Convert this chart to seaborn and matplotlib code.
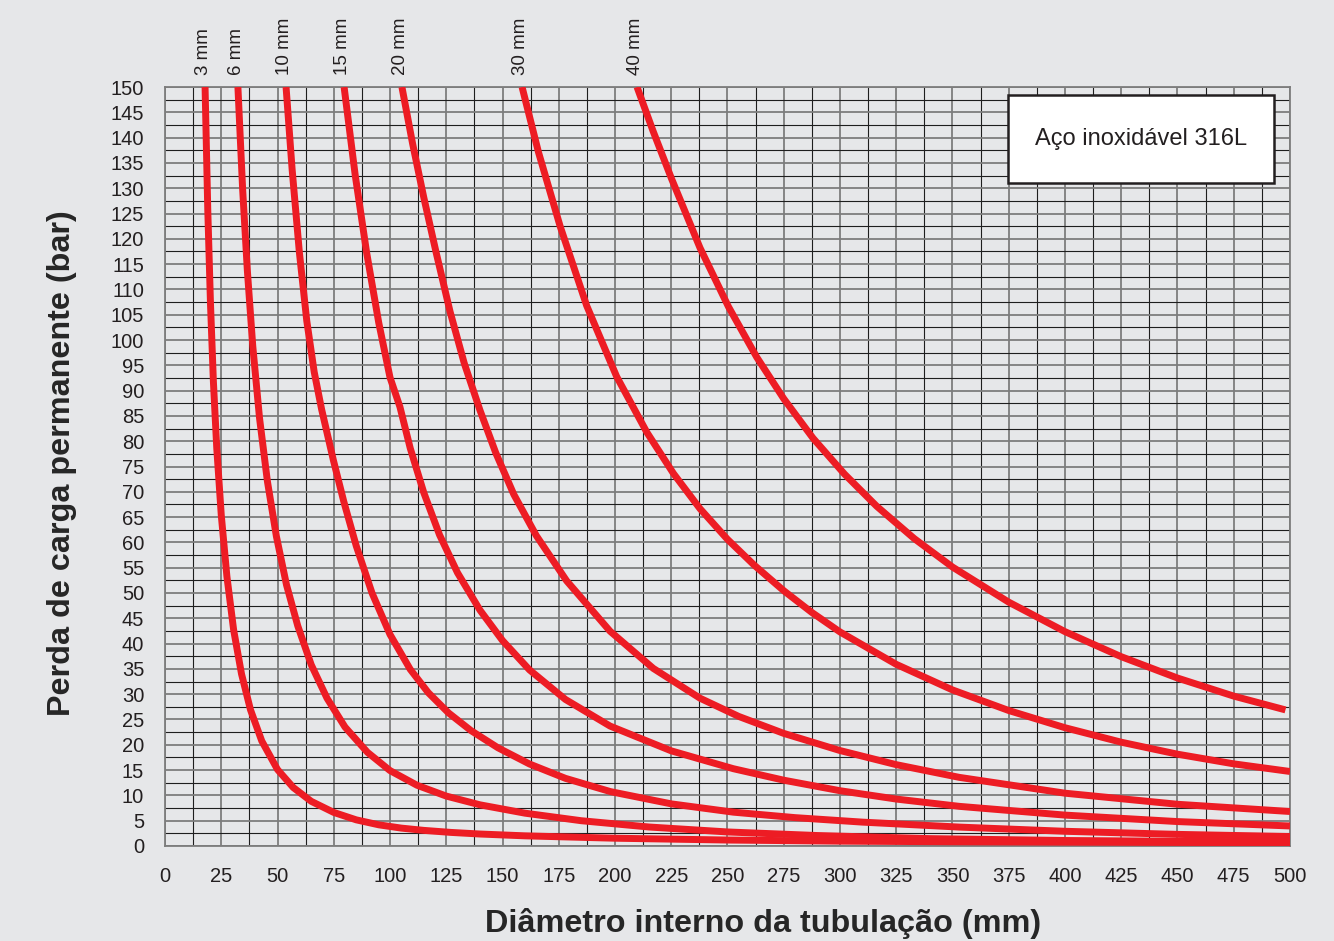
import matplotlib
matplotlib.use("Agg")
import matplotlib.pyplot as plt
import matplotlib.patches as mpatches
from matplotlib.ticker import MultipleLocator
import pandas as pd
import seaborn as sns

# ── Data (internal diameter mm -> pressure loss bar) ──────────────────────────
LABELS = ["3 mm", "6 mm", "10 mm", "15 mm", "20 mm", "30 mm", "40 mm"]

x_3 = [17.8, 19.0, 20.2, 21.5, 23.0, 25.0, 27.5, 30.5, 34.0, 38.0, 43.0, 50.0,
       57.0, 65.0, 75.0, 85.0, 95.0, 105.0, 115.0, 127.0, 140.0, 160.0, 200.0,
       250.0, 300.0, 350.0, 400.0, 450.0, 500.0]
y_3 = [150, 125.8, 107.3, 91.8, 78.6, 65.4, 53.3, 42.7, 34.0, 26.9, 20.75, 15.1,
       11.55, 8.82, 6.63, 5.16, 4.18, 3.53, 3.08, 2.68, 2.36, 2.0, 1.53,
       1.17, 0.95, 0.83, 0.75, 0.69, 0.64]

x_6 = [32.4, 34.5, 36.6, 39.0, 42.0, 45.5, 49.5, 54.0, 59.0, 65.0, 72.0, 80.0,
       90.0, 100.0, 112.0, 125.0, 140.0, 160.0, 185.0, 215.0, 250.0, 290.0,
       340.0, 400.0, 450.0, 500.0]
y_6 = [150, 129.8, 113.7, 98.8, 84.6, 72.1, 61.2, 51.6, 43.5, 35.8, 29.2, 23.5,
       18.5, 14.9, 12.0, 9.86, 8.13, 6.48, 4.99, 3.75, 2.77, 2.06,
       1.45, 1.08, 0.92, 0.82]

x_10 = [53.8, 56.5, 59.7, 63.0, 66.3, 69.6, 74.8, 79.5, 85.0, 92.0, 100.0, 109.0,
        117.0, 126.0, 136.0, 148.0, 162.0, 178.0, 198.0, 225.0, 252.6, 280.0,
        310.0, 353.0, 400.0, 450.0, 500.0]
y_10 = [150, 133.7, 117.4, 103.8, 93.7, 86.3, 76.3, 68.0, 59.3, 50.0, 41.8, 34.9,
        30.3, 26.3, 22.8, 19.4, 16.2, 13.36, 10.74, 8.32, 6.68, 5.6,
        4.71, 3.73, 2.9, 2.29, 1.86]

x_15 = [79.6, 84.5, 89.6, 95.0, 100.0, 104.4, 109.0, 115.0, 122.0, 130.0, 140.0,
        150.0, 162.0, 178.0, 197.8, 225.0, 252.6, 275.0, 300.0, 325.0, 353.0,
        400.0, 450.0, 500.0]
y_15 = [150, 132.7, 117.3, 103.4, 92.6, 86.8, 78.6, 69.85, 61.5, 54.0, 46.6,
        40.6, 34.8, 28.95, 23.7, 18.8, 15.27, 13.0, 10.92, 9.27, 7.83,
        6.1, 4.82, 3.95]

x_20 = [105.3, 110.0, 115.0, 120.5, 126.7, 133.0, 140.0, 147.0, 155.0, 165.0,
        178.5, 197.8, 217.0, 237.8, 255.0, 275.0, 300.0, 325.0, 353.0, 400.0,
        450.0, 500.0]
y_20 = [150, 138.9, 128.2, 117.3, 105.6, 95.4, 86.1, 77.7, 69.5, 61.35,
        52.4, 42.45, 35.1, 29.2, 25.6, 22.25, 18.86, 16.07, 13.56, 10.43,
        8.24, 6.81]

x_30 = [158.7, 166.0, 175.6, 187.4, 200.7, 214.1, 226.0, 237.8, 250.0, 262.0,
        275.0, 287.5, 300.0, 325.0, 350.0, 375.0, 400.0, 425.0, 450.0, 475.0,
        500.0]
y_30 = [150, 137.1, 122.5, 106.8, 92.8, 81.8, 73.6, 66.65, 60.6, 55.45,
        50.45, 46.15, 42.3, 35.9, 30.84, 26.77, 23.37, 20.51, 18.14, 16.23,
        14.72]

x_40 = [209.8, 217.0, 225.2, 237.8, 250.4, 263.0, 275.0, 288.0, 302.0, 316.3,
        333.0, 350.0, 375.0, 400.0, 425.0, 450.0, 475.0, 498.0]
y_40 = [150, 141.2, 131.8, 118.2, 106.6, 96.6, 88.4, 80.6, 73.5, 67.15,
        60.75, 55.13, 48.19, 42.36, 37.41, 33.19, 29.62, 26.89]

SERIES_X = [x_3, x_6, x_10, x_15, x_20, x_30, x_40]
SERIES_Y = [y_3, y_6, y_10, y_15, y_20, y_30, y_40]

BOX_TEXT = "Aço inoxidável 316L"
X_LABEL = "Diâmetro interno da tubulação (mm)"
Y_LABEL = "Perda de carga permanente (bar)"

# ── Style ─────────────────────────────────────────────────────────────────────
BG = "#e6e7e9"
RED = "#ed1c24"
INK = "#231f20"
MAJOR = "#7d7d7d"
MINOR = "#1e1e1e"

sns.set_theme(style="white")
plt.rcParams.update({
    "font.family": ["Liberation Sans", "DejaVu Sans"],
    "figure.facecolor": BG,
    "axes.facecolor": BG,
    "text.color": INK,
    "xtick.color": INK,
    "ytick.color": INK,
})

rows = []
for label, xs, ys in zip(LABELS, SERIES_X, SERIES_Y):
    for xv, yv in zip(xs, ys):
        rows.append({"diametro": xv, "perda": yv, "curva": label})
df = pd.DataFrame(rows)

fig = plt.figure(figsize=(13.34, 9.41), dpi=100)
ax = fig.add_axes([0.1237, 0.1010, 0.8433, 0.8065])

sns.lineplot(data=df, x="diametro", y="perda", units="curva", estimator=None,
             sort=False, color=RED, linewidth=5, ax=ax, zorder=3,
             solid_capstyle="butt", solid_joinstyle="round")

ax.set_xlim(0, 500)
ax.set_ylim(0, 150)
ax.xaxis.set_major_locator(MultipleLocator(25))
ax.yaxis.set_major_locator(MultipleLocator(5))
ax.xaxis.set_minor_locator(MultipleLocator(12.5))
ax.yaxis.set_minor_locator(MultipleLocator(2.5))
ax.set_axisbelow(True)
ax.grid(True, which="major", color=MAJOR, linewidth=1.3)
ax.grid(True, which="minor", color=MINOR, linewidth=0.8)
ax.tick_params(which="major", length=10, width=1.3, color=MAJOR,
               labelsize=14.5, pad=5, labelcolor=INK)
ax.tick_params(which="minor", length=0)
for sp in ax.spines.values():
    sp.set_color(MAJOR)
    sp.set_linewidth(1.3)

ax.set_xlabel(X_LABEL, fontsize=23.3, fontweight="bold", va="center")
ax.xaxis.set_label_coords(0.532, -0.102)
ax.set_ylabel(Y_LABEL, fontsize=23.3, fontweight="bold", va="center")
ax.yaxis.set_label_coords(-0.092, 0.505)

# curve labels above the top end of each curve
for label, xs in zip(LABELS, SERIES_X):
    ax.annotate(label, xy=(xs[0], 150), xytext=(-1, 9),
                textcoords="offset points", rotation=90,
                ha="center", va="bottom", fontsize=13.5, color=INK,
                annotation_clip=False)

# material box
box = mpatches.Rectangle((0.749, 0.8735), 0.237, 0.116, transform=ax.transAxes,
                         facecolor="white", edgecolor=INK, linewidth=1.8,
                         zorder=5)
ax.add_patch(box)
ax.text(0.8675, 0.931, BOX_TEXT, transform=ax.transAxes, ha="center",
        va="center", fontsize=17, color=INK, zorder=6)

if ax.get_legend() is not None:
    ax.get_legend().remove()

fig.savefig("out.png", dpi=100, facecolor=BG)
